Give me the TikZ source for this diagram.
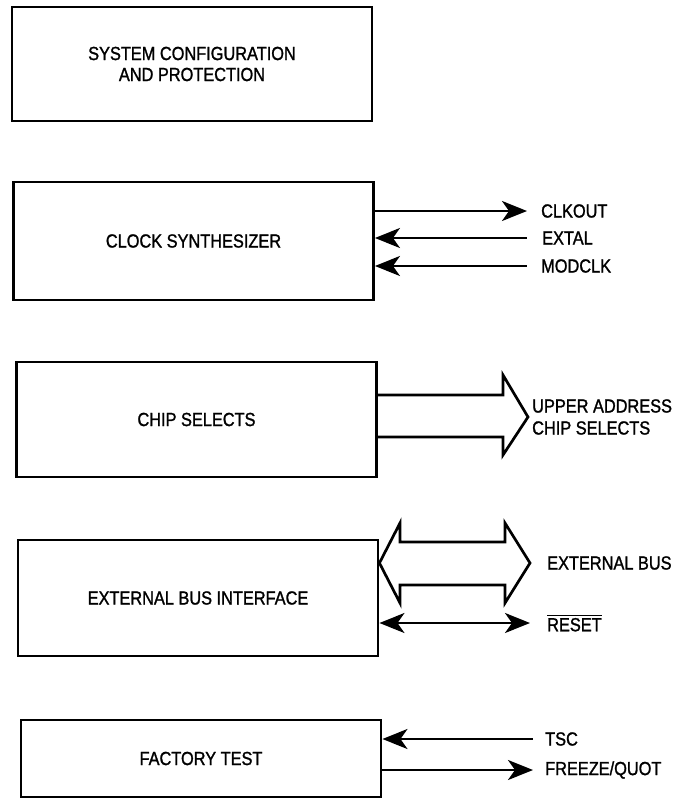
\documentclass[tikz,border=0pt]{standalone}
\usepackage{amsmath}
\usepackage{fontspec}
\setmainfont[FakeStretch=0.86, FakeBold=1.3]{Liberation Sans}
\usepackage{tikz}
\usetikzlibrary{arrows.meta, positioning}
\tikzset{
    block/.style={draw, line width=2.9pt, minimum width=360pt, align=center, inner sep=0pt},
    pin/.style={anchor=west, inner sep=0pt, align=left},
    sig/.style={line width=2.5pt},
    tip/.tip={Stealth[length=25pt, width=20pt, inset=7pt]},
    bus/.style={line width=2.7pt, line join=miter}
}

\begin{document}
\begin{tikzpicture}[x=1pt, y=-1pt, font=\fontsize{19}{21}\selectfont]
            \useasboundingbox (0,0) rectangle (685,801);
            \node[block, minimum height=114pt] (scp) at (192,64) {SYSTEM CONFIGURATION\\AND PROTECTION};
            \node[block, minimum height=118pt] (clk) at (193.5,241) {CLOCK SYNTHESIZER};
            \node[block, minimum height=115pt] (cs) at (196.5,419.5) {CHIP SELECTS};
            \node[block, minimum height=116pt] (ebi) at (198,598) {EXTERNAL BUS INTERFACE};
            \node[block, minimum height=77pt] (ft) at (201,758.5) {FACTORY TEST};

            \node[pin] (clkout) at (541,211) {CLKOUT};
            \node[pin] (extal) at (542,238) {EXTAL};
            \node[pin] (modclk) at (541,266) {MODCLK};
            \draw[sig, -tip] (clk.east |- clkout) -- ([xshift=-14pt]clkout.west);
            \draw[sig, tip-] (clk.east |- extal) -- ([xshift=-15pt]extal.west);
            \draw[sig, tip-] (clk.east |- modclk) -- ([xshift=-14pt]modclk.west);

            \node[pin, font=\fontsize{19}{22}\selectfont] (upper) at (532,417) {UPPER ADDRESS\\CHIP SELECTS};
            \draw[bus] (cs.east |- 0,395) -- (503,395) -- (503,375) -- ([xshift=-4pt]upper.west) -- (503,455) -- (503,437) -- (cs.east |- 0,437);

            \node[pin] (extbus) at (547,563) {EXTERNAL BUS};
            \node[pin] (reset) at (547,623) {$\overline{\mbox{RESET}}$};
            \draw[bus] (ebi.east |- extbus) -- (400,523) -- (400,542) -- (505,542) -- (505,523) -- ([xshift=-17pt]extbus.west)
                -- (505,603) -- (505,585) -- (400,585) -- (400,603) -- cycle;
            \draw[sig, tip-tip] (ebi.east |- 0,623) -- ([xshift=-17pt]reset.west |- 0,623);

            \node[pin] (tsc) at (545,739) {TSC};
            \node[pin] (freeze) at (545,770) {FREEZE/QUOT};
            \draw[sig, tip-] (ft.east |- tsc) -- ([xshift=-12pt]tsc.west);
            \draw[sig, -tip] (ft.east |- freeze) -- ([xshift=-12pt]freeze.west);
        \end{tikzpicture}
\end{document}
